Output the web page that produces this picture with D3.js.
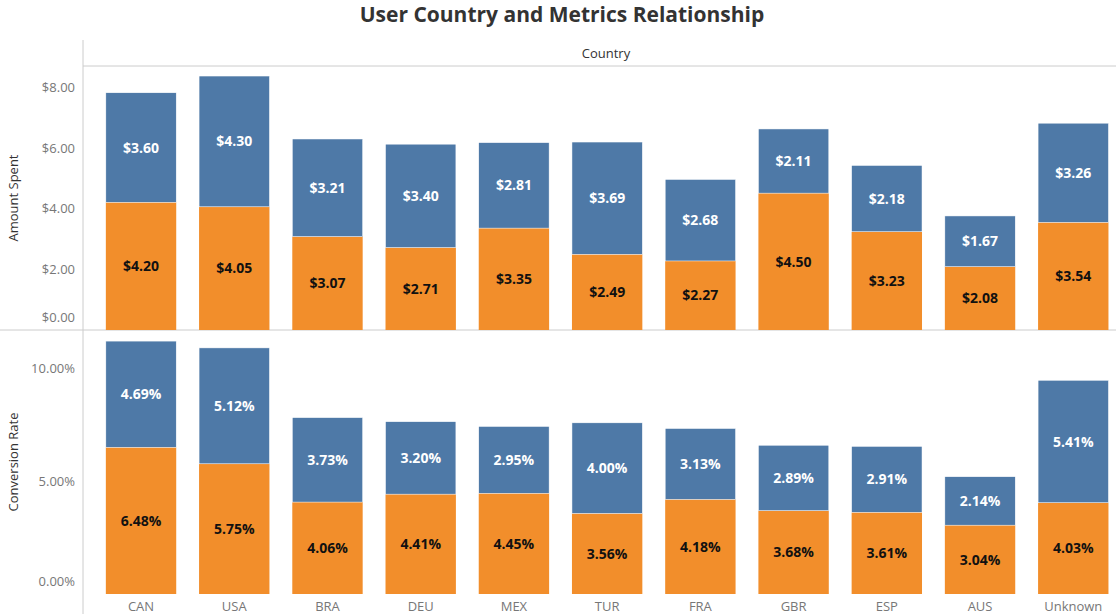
<!DOCTYPE html>
<html><head><meta charset="utf-8">
<script src="https://cdn.jsdelivr.net/npm/d3@7"></script>
<style>body{margin:0;background:#fff;font-family:"Open Sans",sans-serif}</style>
</head><body>
<svg id="c" width="1116" height="614"></svg>
<script>
const countries = ['CAN', 'USA', 'BRA', 'DEU', 'MEX', 'TUR', 'FRA', 'GBR', 'ESP', 'AUS', 'Unknown'];
const spentLower = [4.20, 4.05, 3.07, 2.71, 3.35, 2.49, 2.27, 4.50, 3.23, 2.08, 3.54];
const spentUpper = [3.60, 4.30, 3.21, 3.40, 2.81, 3.69, 2.68, 2.11, 2.18, 1.67, 3.26];
const convLower = [6.48, 5.75, 4.06, 4.41, 4.45, 3.56, 4.18, 3.68, 3.61, 3.04, 4.03];
const convUpper = [4.69, 5.12, 3.73, 3.20, 2.95, 4.00, 3.13, 2.89, 2.91, 2.14, 5.41];
const spentTicks = [0, 2, 4, 6, 8];
const convTicks = [0, 5, 10];

const svg = d3.select('#c');
const blue = '#4e79a7', orange = '#f28e2b', grey = '#777';
const left = 83, step = 95.3;

svg.append('text').attr('x', 562).attr('y', 22).attr('text-anchor', 'middle')
    .attr('font-size', 21).attr('font-weight', 'bold').attr('fill', '#333')
    .text('User Country and Metrics Relationship');

const x = d3.scaleBand().domain(countries).range([left, left + step * countries.length]).padding(0.245);

// frame lines
svg.append('line').attr('x1', left).attr('x2', 1116).attr('y1', 66).attr('y2', 66).attr('stroke', '#ccc');
svg.append('line').attr('x1', 0).attr('x2', 1116).attr('y1', 330).attr('y2', 330).attr('stroke', '#ccc');
svg.append('line').attr('x1', left).attr('x2', left).attr('y1', 40).attr('y2', 614).attr('stroke', '#ccc');
svg.append('text').attr('x', 606).attr('y', 58).attr('text-anchor', 'middle')
    .attr('font-size', 13).attr('fill', '#333').text('Country');

function panel (lower, upper, top, bottom, maxV, ticks, fmtTick, fmtLabel, title) {
    const y = d3.scaleLinear().domain([0, maxV]).range([bottom, top]);
    const g = svg.append('g');
    countries.forEach((c, i) => {
        const l = lower[i], u = upper[i];
        g.append('rect').attr('x', x(c)).attr('width', x.bandwidth())
            .attr('y', y(l)).attr('height', y(0) - y(l)).attr('fill', orange);
        g.append('rect').attr('x', x(c)).attr('width', x.bandwidth())
            .attr('y', y(l + u)).attr('height', y(l) - y(l + u)).attr('fill', blue)
            .attr('stroke', '#fff').attr('stroke-width', 0.5);
        g.append('text').attr('x', x(c) + x.bandwidth() / 2).attr('y', y(l / 2) + 5)
            .attr('text-anchor', 'middle').attr('font-size', 14).attr('font-weight', 'bold')
            .attr('fill', '#111').text(fmtLabel(l));
        g.append('text').attr('x', x(c) + x.bandwidth() / 2).attr('y', y(l + u / 2) + 5)
            .attr('text-anchor', 'middle').attr('font-size', 14).attr('font-weight', 'bold')
            .attr('fill', '#fff').text(fmtLabel(u));
    });
    ticks.forEach(t => {
        const yy = t === 0 ? y(t) - 13 : y(t);
        svg.append('text').attr('x', 75).attr('y', yy + 5).attr('text-anchor', 'end')
            .attr('font-size', 13).attr('fill', grey).text(fmtTick(t));
    });
    svg.append('text').attr('transform', `translate(18,${(top + bottom) / 2}) rotate(-90)`)
        .attr('text-anchor', 'middle').attr('font-size', 13).attr('fill', '#333').text(title);
}

panel(spentLower, spentUpper, 66, 330, 8.68, spentTicks,
    t => '$' + t.toFixed(2), v => '$' + v.toFixed(2), 'Amount Spent');
panel(convLower, convUpper, 330, 594, 11.66, convTicks,
    t => t.toFixed(2) + '%', v => v.toFixed(2) + '%', 'Conversion Rate');

countries.forEach(c => {
    svg.append('text').attr('x', x(c) + x.bandwidth() / 2).attr('y', 611)
        .attr('text-anchor', 'middle').attr('font-size', 13).attr('fill', grey).text(c);
});
</script>
</body></html>
